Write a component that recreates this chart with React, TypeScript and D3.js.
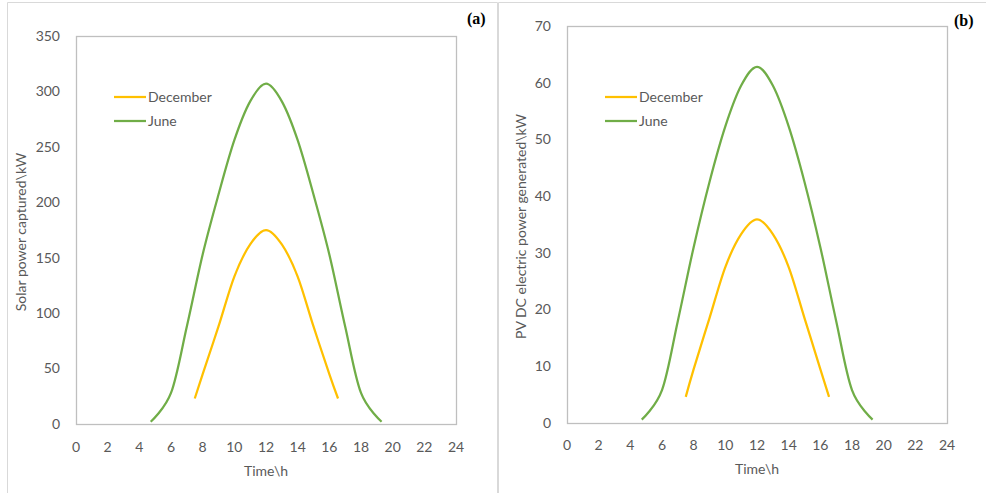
import React, { useEffect, useRef } from 'react';
import * as d3 from 'd3';

// hours of the day
const xTicks = [0, 2, 4, 6, 8, 10, 12, 14, 16, 18, 20, 22, 24];
const juneHours = [4.72, 6, 7, 8, 9, 10, 11, 12, 13, 14, 15, 16, 17, 18, 19.3];
const decHours = [7.5, 8, 9, 10, 11, 12, 13, 14, 15, 16, 16.55];

// (a) solar power captured, kW
const capturedJune = [2, 28, 88, 153, 207, 256, 291, 307, 291, 256, 207, 153, 88, 28, 2];
const capturedDec = [23, 45, 88, 133, 162, 175, 162, 133, 88, 45, 23];
const capturedTicks = [0, 50, 100, 150, 200, 250, 300, 350];

// (b) PV DC electric power generated, kW
const generatedJune = [0.6, 5.8, 18, 31, 42.5, 52.3, 59.5, 62.8, 59.5, 52.3, 42.5, 31, 18, 5.8, 0.6];
const generatedDec = [4.6, 9.5, 18.5, 27.5, 33.3, 35.9, 33.3, 27.5, 18.5, 9.5, 4.6];
const generatedTicks = [0, 10, 20, 30, 40, 50, 60, 70];

const DEC_COLOR = '#FFC000';
const JUNE_COLOR = '#70AD47';
const TEXT = '#595959';
const FONT = 'Lato, "Open Sans", sans-serif';

type PanelCfg = {
  left: number; right: number; top: number; bottom: number;
  yMax: number; yTicks: number[];
  june: number[]; dec: number[];
  yTitle: string; yTitleX: number;
  tag: string; tagX: number; tagY: number;
  legendX: number;
  xLabelY: number;
};

const panels: PanelCfg[] = [
  {
    left: 76, right: 456, top: 36, bottom: 424,
    yMax: 350, yTicks: capturedTicks,
    june: capturedJune, dec: capturedDec,
    yTitle: 'Solar power captured\\kW', yTitleX: 21,
    tag: '(a)', tagX: 467, tagY: 24,
    legendX: 114, xLabelY: 447,
  },
  {
    left: 567, right: 947, top: 26, bottom: 423,
    yMax: 70, yTicks: generatedTicks,
    june: generatedJune, dec: generatedDec,
    yTitle: 'PV DC electric power generated\\kW', yTitleX: 521,
    tag: '(b)', tagX: 954, tagY: 26,
    legendX: 605, xLabelY: 445,
  },
];

export default function App() {
  const ref = useRef<SVGSVGElement>(null);

  useEffect(() => {
    const svg = d3.select(ref.current);
    svg.selectAll('*').remove();

    svg.append('rect').attr('width', 986).attr('height', 493).attr('fill', '#fff');

    // outer frames
    svg.append('path')
      .attr('d', 'M7.5,493 V2.5 H497.5 V493')
      .attr('fill', 'none').attr('stroke', '#d9d9d9');
    svg.append('path')
      .attr('d', 'M498.5,493 V2.5 H986')
      .attr('fill', 'none').attr('stroke', '#d9d9d9');

    panels.forEach(p => {
      const g = svg.append('g');
      const x = d3.scaleLinear().domain([0, 24]).range([p.left, p.right]);
      const y = d3.scaleLinear().domain([0, p.yMax]).range([p.bottom, p.top]);

      g.append('rect')
        .attr('x', p.left + 0.5).attr('y', p.top + 0.5)
        .attr('width', p.right - p.left).attr('height', p.bottom - p.top)
        .attr('fill', 'none').attr('stroke', '#bfbfbf').attr('stroke-width', 1.3);

      g.selectAll('.yl').data(p.yTicks).enter().append('text')
        .attr('x', p.left - 16).attr('y', d => y(d))
        .attr('dy', '0.35em').attr('text-anchor', 'end')
        .attr('font-family', FONT).attr('font-size', 14).attr('fill', TEXT)
        .text(d => d);

      g.selectAll('.xl').data(xTicks).enter().append('text')
        .attr('x', d => x(d)).attr('y', p.xLabelY)
        .attr('dy', '0.35em').attr('text-anchor', 'middle')
        .attr('font-family', FONT).attr('font-size', 14).attr('fill', TEXT)
        .text(d => d);

      g.append('text')
        .attr('x', (p.left + p.right) / 2).attr('y', p.xLabelY + 24)
        .attr('dy', '0.35em').attr('text-anchor', 'middle')
        .attr('font-family', FONT).attr('font-size', 14).attr('fill', TEXT)
        .text('Time\\h');

      const cy = (p.top + p.bottom) / 2 + 2;
      g.append('text')
        .attr('transform', `translate(${p.yTitleX},${cy}) rotate(-90)`)
        .attr('dy', '0.35em').attr('text-anchor', 'middle')
        .attr('font-family', FONT).attr('font-size', 14).attr('fill', TEXT)
        .text(p.yTitle);

      g.append('text')
        .attr('x', p.tagX).attr('y', p.tagY)
        .attr('font-family', '"Liberation Serif", serif').attr('font-weight', 'bold')
        .attr('font-size', 16).attr('fill', '#000')
        .text(p.tag);

      // Excel-style smoothed line
      const line = d3.line<[number, number]>()
        .x(d => x(d[0])).y(d => y(d[1]))
        .curve(d3.curveCatmullRom.alpha(0));

      const series = [
        { name: 'December', color: DEC_COLOR, pts: decHours.map((h, i) => [h, p.dec[i]] as [number, number]) },
        { name: 'June', color: JUNE_COLOR, pts: juneHours.map((h, i) => [h, p.june[i]] as [number, number]) },
      ];

      series.forEach((s, i) => {
        g.append('path')
          .attr('d', line(s.pts))
          .attr('fill', 'none').attr('stroke', s.color).attr('stroke-width', 2.25);

        const ly = 97 + i * 24;
        g.append('line')
          .attr('x1', p.legendX).attr('x2', p.legendX + 32)
          .attr('y1', ly).attr('y2', ly)
          .attr('stroke', s.color).attr('stroke-width', 2.25);
        g.append('text')
          .attr('x', p.legendX + 34).attr('y', ly)
          .attr('dy', '0.35em')
          .attr('font-family', FONT).attr('font-size', 14).attr('fill', TEXT)
          .text(s.name);
      });
    });
  }, []);

  return (
    <svg
      ref={ref}
      width={986}
      height={493}
      style={{ position: 'absolute', left: 0, top: 0 }}
    />
  );
}
